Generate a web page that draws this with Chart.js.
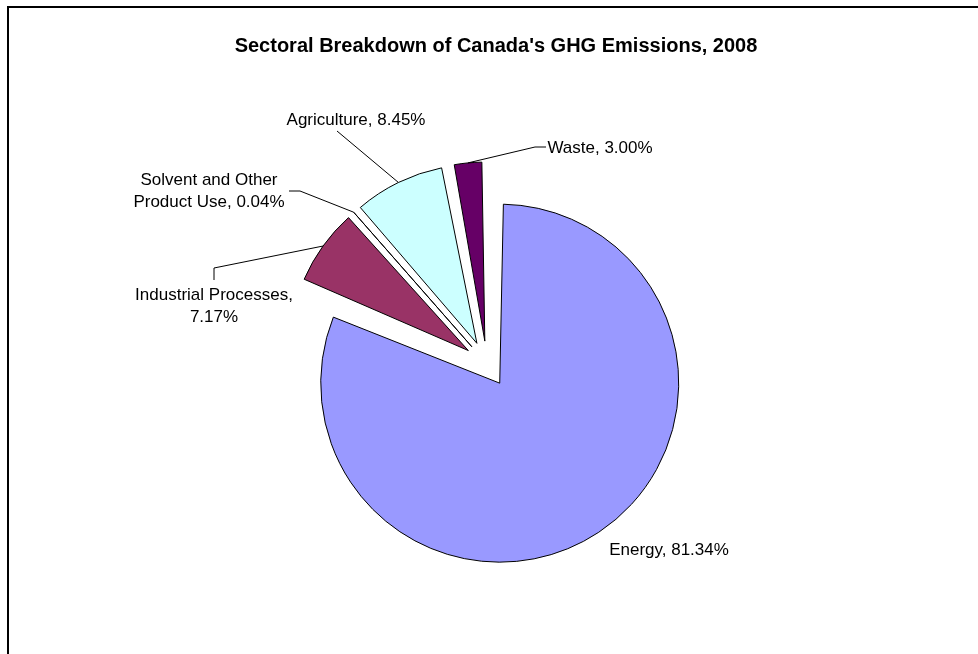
<!DOCTYPE html>
<html><head><meta charset="utf-8">
<script src="https://cdn.jsdelivr.net/npm/chart.js@4/dist/chart.umd.min.js"></script>
<style>html,body{margin:0;padding:0;background:#fff;overflow:hidden}</style>
</head><body>
<canvas id="c" width="978" height="654"></canvas>
<script>
// ---- data ----
const chartTitle = "Sectoral Breakdown of Canada's GHG Emissions, 2008";
const categories = ["Energy", "Industrial Processes", "Solvent and Other Product Use", "Agriculture", "Waste"];
const shares = [81.34, 7.17, 0.04, 8.45, 3.00];
const shareLabels = ["81.34%", "7.17%", "0.04%", "8.45%", "3.00%"];
const labelLines = [
  ["Energy, 81.34%"],
  ["Industrial Processes,", "7.17%"],
  ["Solvent and Other", "Product Use, 0.04%"],
  ["Agriculture, 8.45%"],
  ["Waste, 3.00%"]
];
const sliceColors = ["#9999FF", "#993366", "#FFFFCC", "#CCFFFF", "#660066"];

// ---- styling / layout ----
const FONT = '"Liberation Sans", Arial, Helvetica, sans-serif';
const EXPLODE = 23;      // px each slice is pulled out from the centre
const PIE_RADIUS = 179;
// label placement: text centre, leader elbow points (leader ends on the slice edge)
const labelLayout = [
  {x: 669, y: 550, leader: null},
  {x: 214, y: 295, leader: [[214, 280], [214, 268]]},
  {x: 209, y: 180, leader: [[289, 191], [300, 191]]},
  {x: 356, y: 120, leader: [[337, 131]]},
  {x: 600, y: 148, leader: [[546, 147], [535, 147]]}
];

function arcFix(circ) { return 1 - Math.sin(Math.min(Math.PI, circ)); }

// Chart.js translates an arc by offset/4 and grows its radius by offset/4*fix;
// undo the growth so every slice keeps the same radius.
const equalRadiusPlugin = {
  id: 'equalRadius',
  beforeDatasetsDraw(chart) {
    chart.getDatasetMeta(0).data.forEach(arc => {
      const off = (arc.options.offset || 0) / 4;
      arc.outerRadius = PIE_RADIUS - off * arcFix(arc.circumference);
    });
  }
};

const framePlugin = {
  id: 'frame',
  beforeDraw(chart) {
    const ctx = chart.ctx;
    ctx.save();
    ctx.fillStyle = '#fff';
    ctx.fillRect(0, 0, chart.width, chart.height);
    ctx.strokeStyle = '#000';
    ctx.lineWidth = 2;
    ctx.beginPath();
    ctx.moveTo(8, chart.height + 2);
    ctx.lineTo(8, 7);
    ctx.lineTo(chart.width + 2, 7);
    ctx.stroke();
    ctx.fillStyle = '#000';
    ctx.font = 'bold 20px ' + FONT;
    ctx.textAlign = 'center';
    ctx.textBaseline = 'middle';
    ctx.fillText(chartTitle, 496, 46);
    ctx.restore();
  }
};

const labelPlugin = {
  id: 'sliceLabels',
  afterDatasetsDraw(chart) {
    const ctx = chart.ctx;
    const meta = chart.getDatasetMeta(0);
    ctx.save();
    ctx.font = '17px ' + FONT;
    ctx.fillStyle = '#000';
    ctx.strokeStyle = '#000';
    ctx.lineWidth = 1;
    ctx.textAlign = 'center';
    ctx.textBaseline = 'middle';
    meta.data.forEach((arc, i) => {
      const mid = (arc.startAngle + arc.endAngle) / 2;
      const shift = (arc.options.offset || 0) / 4;
      const ax = arc.x + Math.cos(mid) * (shift + PIE_RADIUS);
      const ay = arc.y + Math.sin(mid) * (shift + PIE_RADIUS);
      const L = labelLayout[i];
      if (L.leader) {
        ctx.beginPath();
        ctx.moveTo(L.leader[0][0], L.leader[0][1]);
        for (let k = 1; k < L.leader.length; k++) ctx.lineTo(L.leader[k][0], L.leader[k][1]);
        ctx.lineTo(ax, ay);
        ctx.stroke();
      }
      labelLines[i].forEach((t, k) => ctx.fillText(t, L.x, L.y + k * 22));
    });
    ctx.restore();
  }
};

new Chart(document.getElementById('c'), {
  type: 'pie',
  data: {
    labels: categories,
    datasets: [{
      data: shares,
      backgroundColor: sliceColors,
      borderColor: '#000',
      borderWidth: 1,
      offset: 4 * EXPLODE,
      hoverOffset: 0
    }]
  },
  options: {
    responsive: false,
    devicePixelRatio: 1,
    animation: false,
    radius: PIE_RADIUS,
    layout: {padding: {left: 100, right: 104, top: 100, bottom: 26}},
    plugins: {legend: {display: false}, tooltip: {enabled: false}, title: {display: false}},
    events: []
  },
  plugins: [equalRadiusPlugin, framePlugin, labelPlugin]
});
</script>
</body></html>
